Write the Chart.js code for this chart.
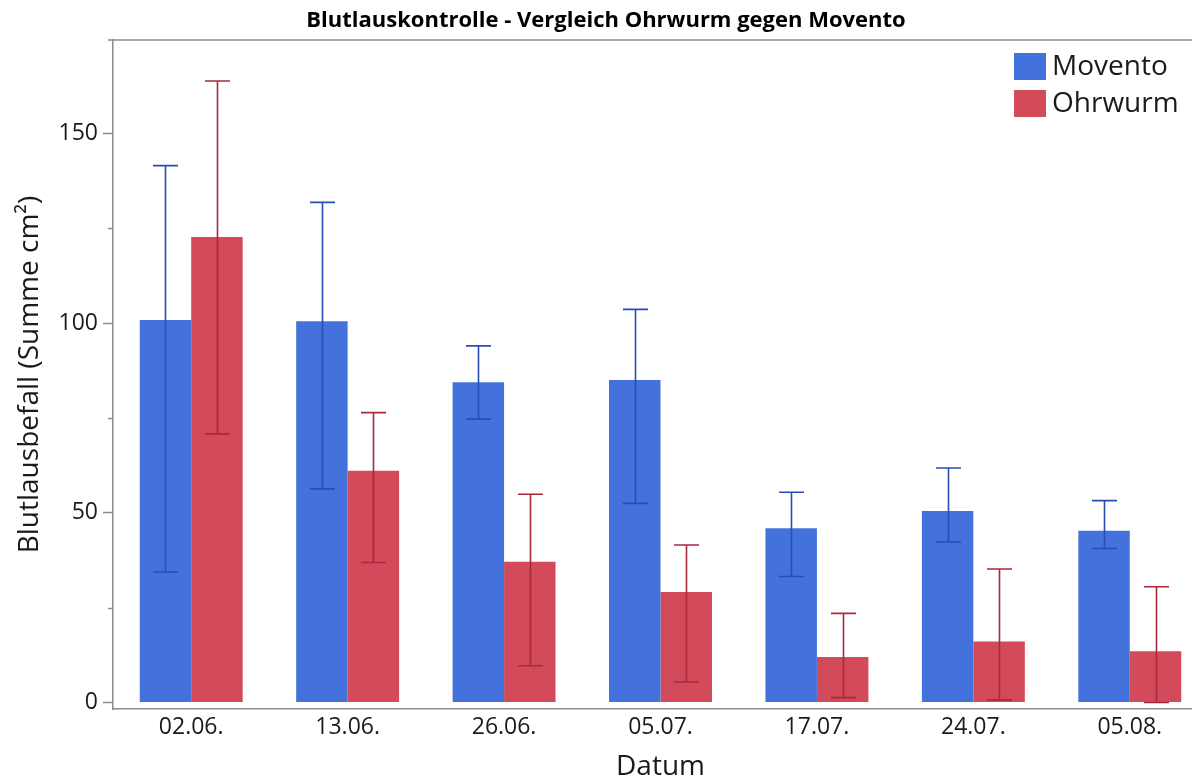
<!DOCTYPE html>
<html>
<head>
<meta charset="utf-8">
<script src="https://cdn.jsdelivr.net/npm/chart.js@4.4.1/dist/chart.umd.min.js"></script>
<style>
  html, body { margin: 0; padding: 0; background: #fff; overflow: hidden; }
  #wrap { width: 1216px; height: 781px; }
</style>
</head>
<body>
<div id="wrap"><canvas id="chart" width="1216" height="781"></canvas></div>
<script>
const categories = ['02.06.', '13.06.', '26.06.', '05.07.', '17.07.', '24.07.', '05.08.'];

// mean values
const movento = [100.8, 100.5, 84.4, 85.0, 45.9, 50.5, 45.3];
const ohrwurm = [122.7, 61.1, 37.1, 29.1, 12.0, 16.1, 13.5];

// error bar ends
const moventoHigh = [141.5, 131.8, 94.0, 103.6, 55.4, 61.8, 53.2];
const moventoLow  = [34.4, 56.3, 74.7, 52.5, 33.2, 42.3, 40.6];
const ohrwurmHigh = [163.8, 76.4, 54.9, 41.5, 23.5, 35.2, 30.5];
const ohrwurmLow  = [70.8, 36.9, 9.7, 5.4, 1.3, 0.7, 0.0];

const yTicks = [0, 25, 50, 75, 100, 125, 150];
const yLabels = [0, 50, 100, 150];

const chartTitle = 'Blutlauskontrolle - Vergleich Ohrwurm gegen Movento';
const FONT = '"Open Sans", "Noto Sans", sans-serif';
const AXIS_GREY = '#8c8c8c';

const errorBars = {
  id: 'errorBars',
  afterDatasetsDraw(chart) {
    const { ctx, scales: { y } } = chart;
    chart.data.datasets.forEach((ds, i) => {
      const meta = chart.getDatasetMeta(i);
      ctx.save();
      ctx.strokeStyle = ds.errColor;
      ctx.lineWidth = 1.6;
      meta.data.forEach((bar, j) => {
        const x = Math.round(bar.x) + 0.5;
        const top = y.getPixelForValue(ds.errHigh[j]);
        const bot = y.getPixelForValue(ds.errLow[j]);
        ctx.beginPath();
        ctx.moveTo(x, top); ctx.lineTo(x, bot);
        ctx.moveTo(x - 12.5, top); ctx.lineTo(x + 12.5, top);
        ctx.moveTo(x - 12.5, bot); ctx.lineTo(x + 12.5, bot);
        ctx.stroke();
      });
      ctx.restore();
    });
  }
};

const decorations = {
  id: 'decorations',
  afterDraw(chart) {
    const { ctx, chartArea, scales: { y } } = chart;
    ctx.save();
    // top frame line
    ctx.strokeStyle = AXIS_GREY;
    ctx.lineWidth = 1.5;
    ctx.beginPath();
    ctx.moveTo(chartArea.left - 5, chartArea.top);
    ctx.lineTo(chart.width, chartArea.top);
    ctx.stroke();
    // minor ticks
    yTicks.filter(v => !yLabels.includes(v)).forEach(v => {
      const py = Math.round(y.getPixelForValue(v)) + 0.5;
      ctx.beginPath();
      ctx.moveTo(chartArea.left - 5, py);
      ctx.lineTo(chartArea.left, py);
      ctx.stroke();
    });
    // title
    ctx.fillStyle = '#000';
    ctx.font = 'bold 22px ' + FONT;
    ctx.textAlign = 'center';
    ctx.textBaseline = 'middle';
    ctx.fillText(chartTitle, 606, 21);
    // legend
    ctx.font = '28px ' + FONT;
    ctx.textAlign = 'left';
    chart.data.datasets.forEach((ds, i) => {
      const top = 53 + i * 37;
      ctx.fillStyle = ds.backgroundColor;
      ctx.fillRect(1014, top, 32, 27);
      ctx.fillStyle = '#1a1a1a';
      ctx.fillText(ds.label, 1052, top + 14);
    });
    ctx.restore();
  }
};

new Chart(document.getElementById('chart'), {
  type: 'bar',
  data: {
    labels: categories,
    datasets: [
      { label: 'Movento', data: movento, backgroundColor: '#4472dc', errHigh: moventoHigh, errLow: moventoLow, errColor: '#2a4db3' },
      { label: 'Ohrwurm', data: ohrwurm, backgroundColor: '#d34a5a', errHigh: ohrwurmHigh, errLow: ohrwurmLow, errColor: '#a82a3c' }
    ]
  },
  options: {
    responsive: false,
    animation: false,
    devicePixelRatio: 1,
    categoryPercentage: 0.658,
    barPercentage: 1.0,
    layout: { padding: { top: 40, right: 8, left: 0, bottom: 0 } },
    plugins: {
      legend: { display: false },
      tooltip: { enabled: false }
    },
    scales: {
      x: {
        grid: { display: false, drawTicks: false },
        border: { color: AXIS_GREY, width: 1.5 },
        ticks: { color: '#1a1a1a', font: { family: FONT, size: 23 }, padding: 5 },
        title: { display: true, text: 'Datum', color: '#1a1a1a', font: { family: FONT, size: 28 }, padding: { top: 0, bottom: -3 } },
        afterFit: s => { s.height = 72; }
      },
      y: {
        min: -1.7,
        max: 174.6,
        afterBuildTicks: s => { s.ticks = yTicks.map(v => ({ value: v })); },
        grid: {
          drawOnChartArea: false,
          tickLength: 10,
          tickWidth: 1.5,
          tickColor: c => (yLabels.includes(c.tick && c.tick.value) ? AXIS_GREY : 'rgba(0,0,0,0)')
        },
        border: { color: AXIS_GREY, width: 1.5 },
        ticks: {
          color: '#1a1a1a',
          font: { family: FONT, size: 23 },
          padding: 5,
          callback: v => (yLabels.includes(v) ? String(v) : '')
        },
        title: { display: true, text: 'Blutlausbefall (Summe cm²)', color: '#1a1a1a', font: { family: FONT, size: 28 }, padding: { top: 13, bottom: 0 } },
        afterFit: s => { s.width = 113; }
      }
    }
  },
  plugins: [errorBars, decorations]
});
</script>
</body>
</html>
